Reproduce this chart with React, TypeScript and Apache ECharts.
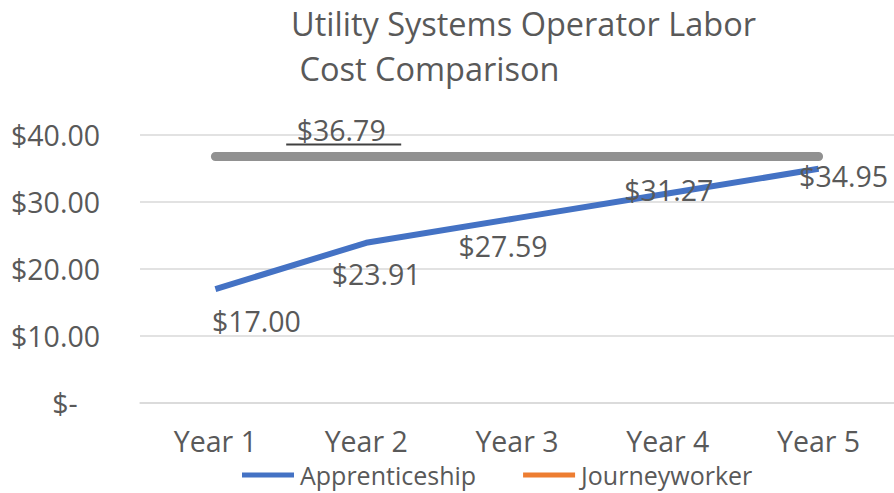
import React, { useEffect, useRef } from "react";
import * as echarts from "echarts";

const categories = ["Year 1", "Year 2", "Year 3", "Year 4", "Year 5"];
const apprenticeship = [17.0, 23.91, 27.59, 31.27, 34.95];
const journeyworker = [36.79, 36.79, 36.79, 36.79, 36.79];
const yTicks = [0, 10, 20, 30, 40];

const FONT = "Open Sans";
const TEXT = "#595959";
const FS = 28.5;

const apprLabelOffsets = [
  [41, 12],
  [10, 12],
  [-14, 8],
  [1, -23],
  [25, -12],
];
// only the Year 2 journeyworker point carries the label, moved left
const jwLabelIndex = 1;
const jwLabelOffset = [-25, 0];

export default function App() {
  const ref = useRef<HTMLDivElement>(null);
  useEffect(() => {
    if (!ref.current) return;
    const chart = echarts.init(ref.current, null, { renderer: "svg" });
    chart.setOption({
      animation: false,
      textStyle: { fontFamily: FONT, color: TEXT },
      title: {
        text: "Utility Systems Operator Labor\n Cost Comparison",
        left: 286,
        top: -4,
        textStyle: { fontFamily: FONT, fontSize: 32.5, fontWeight: "normal", color: TEXT, lineHeight: 45 },
      },
      legend: {
        bottom: 3,
        left: 237,
        padding: [2, 5, 2, 5],
        itemGap: 47,
        itemWidth: 52,
        itemHeight: 5,
        icon: "rect",
        textStyle: { fontFamily: FONT, fontSize: 25, color: TEXT, padding: [0, 0, 0, 1], lineHeight: 26 },
        data: [
          { name: "Apprenticeship", itemStyle: { color: "#4472C4" } },
          { name: "Journeyworker", itemStyle: { color: "#ED7D31" } },
        ],
      },
      grid: { left: 140, right: -7, top: 135, bottom: 90 },
      xAxis: {
        type: "category",
        data: categories,
        boundaryGap: true,
        axisLine: { show: true, lineStyle: { color: "#d9d9d9", width: 1.5 } },
        axisTick: { show: false },
        axisLabel: { fontFamily: FONT, fontSize: FS, color: TEXT, margin: 26, lineHeight: 24 },
      },
      yAxis: {
        type: "value",
        min: 0,
        max: 40,
        interval: 10,
        axisLine: { show: false },
        axisTick: { show: false },
        splitLine: { lineStyle: { color: "#d9d9d9", width: 1.5 } },
        axisLabel: {
          fontFamily: FONT,
          fontSize: FS,
          color: TEXT,
          margin: 40,
          formatter: (v: number) => (v === 0 ? "$-   " : "$" + v.toFixed(2)),
        },
      },
      series: [
        {
          name: "Journeyworker",
          type: "line",
          data: journeyworker.map((v, i) => ({
            value: v,
            label: { show: i === jwLabelIndex, offset: jwLabelOffset },
          })),
          symbol: "circle",
          symbolSize: 0.1,
          showSymbol: true,
          itemStyle: { color: "rgba(0,0,0,0)" },
          lineStyle: {
            color: "#858585",
            width: 9,
            opacity: 0.9,
            cap: "round",
          },
          label: {
            position: "top",
            distance: 12,
            fontFamily: FONT,
            fontSize: FS,
            color: TEXT,
            formatter: (p: any) => "$" + Number(p.value).toFixed(2),
          },
          z: 2,
        },
        {
          name: "Apprenticeship",
          type: "line",
          data: apprenticeship.map((v, i) => ({
            value: v,
            label: { offset: apprLabelOffsets[i] },
          })),
          symbol: "circle",
          symbolSize: 0.1,
          showSymbol: true,
          itemStyle: { color: "rgba(0,0,0,0)" },
          lineStyle: {
            color: "#4472C4",
            width: 6,
          },
          label: {
            show: true,
            position: "bottom",
            distance: 5,
            fontFamily: FONT,
            fontSize: FS,
            color: TEXT,
            formatter: (p: any) => "$" + Number(p.value).toFixed(2),
          },
          z: 3,
        },
      ],
    });
    const pt = chart.convertToPixel({ xAxisIndex: 0, yAxisIndex: 0 }, [jwLabelIndex, journeyworker[jwLabelIndex]]);
    if (pt) {
      const cx = pt[0] + jwLabelOffset[0];
      chart.setOption({
        graphic: [
          {
            type: "line",
            shape: { x1: cx - 55, y1: pt[1] - 12, x2: cx + 60, y2: pt[1] - 12 },
            style: { stroke: "#404040", lineWidth: 2 },
          },
        ],
      });
    }
    return () => chart.dispose();
  }, []);
  return <div ref={ref} style={{ width: 894, height: 493, position: "absolute", left: 0, top: 0 }} />;
}
